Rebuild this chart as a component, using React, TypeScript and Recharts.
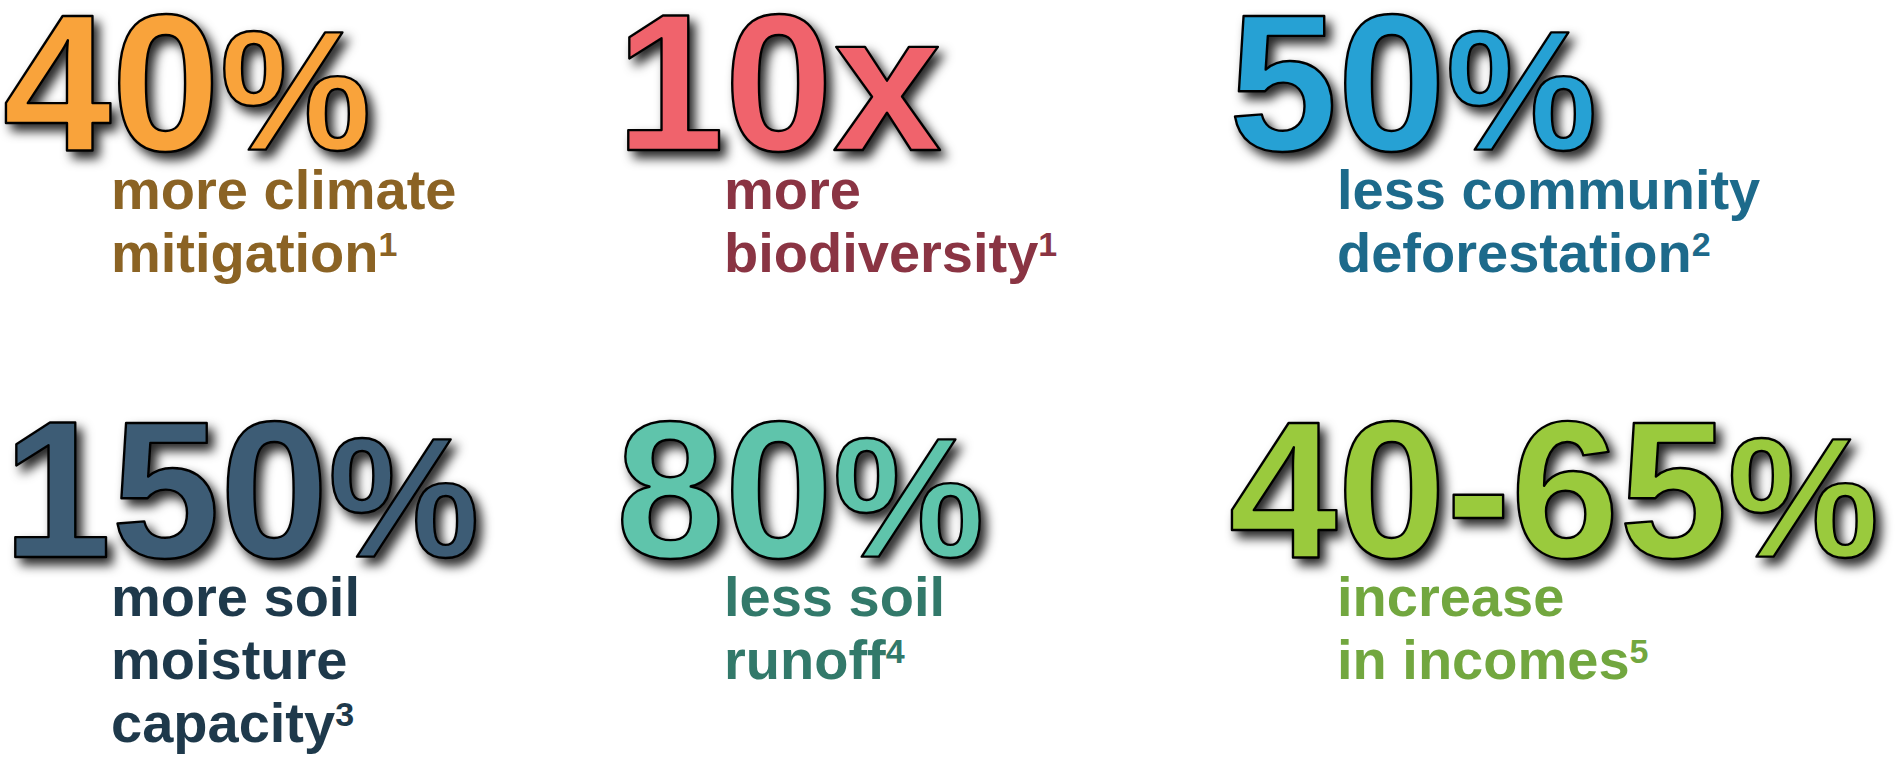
import React from 'react';
import { ScatterChart, Scatter, XAxis, YAxis } from 'recharts';

// headline figures
const VALUES = ['40', '10', '50', '150', '80', '40-65'];
const SUFFIXES = ['%', 'x', '%', '%', '%', '%'];
const CAPTIONS = [
  ['more climate', 'mitigation'],
  ['more', 'biodiversity'],
  ['less community', 'deforestation'],
  ['more soil', 'moisture', 'capacity'],
  ['less soil', 'runoff'],
  ['increase', 'in incomes'],
];
const NOTES = ['1', '1', '2', '3', '4', '5'];
const COLS = [0, 1, 2, 0, 1, 2];
const ROWS = [0, 0, 0, 1, 1, 1];

const FILLS = ['#F9A33B', '#F0646C', '#27A1D4', '#3E5C75', '#5EC4AB', '#9ACA3E'];
const INKS = ['#8B6324', '#8A3443', '#1D6A8B', '#1E394B', '#32796A', '#72A73F'];

const W = 1895;
const H = 764;
const FONT = '"Liberation Sans", Arial, Helvetica, sans-serif';

interface StatPoint {
  col: number;
  row: number;
  value: string;
  suffix: string;
  lines: string[];
  note: string;
  fill: string;
  ink: string;
}

const points: StatPoint[] = VALUES.map((value, i) => ({
  col: COLS[i],
  row: ROWS[i],
  value,
  suffix: SUFFIXES[i],
  lines: CAPTIONS[i],
  note: NOTES[i],
  fill: FILLS[i],
  ink: INKS[i],
}));

function Stat(props: any) {
  const { cx, cy, payload, index } = props;
  if (cx == null || cy == null || !payload) return null;
  const d = payload as StatPoint;
  const x = cx + 3;
  const base = cy + 150;
  const fid = `shadow-${index ?? d.value}`;
  return (
    <g>
      <defs>
        <filter id={fid} x="-20%" y="-20%" width="145%" height="160%">
          <feDropShadow dx={6} dy={7} stdDeviation={5.5} floodColor="#000" floodOpacity={0.85} />
        </filter>
      </defs>
      <text
        x={x}
        y={base}
        fontFamily={FONT}
        fontWeight={700}
        fontSize={195}
        fill={d.fill}
        stroke="#000"
        strokeWidth={2.4}
        strokeLinejoin="round"
        filter={`url(#${fid})`}
      >
        {d.value}
        <tspan fontSize={d.suffix === '%' ? 170 : 195}>{d.suffix}</tspan>
      </text>
      {d.lines.map((line, j) => (
        <text
          key={j}
          x={x + 108}
          y={base + 59 + j * 63}
          fontFamily={FONT}
          fontWeight={700}
          fontSize={56}
          fill={d.ink}
        >
          {line}
          {j === d.lines.length - 1 && (
            <tspan fontSize={34} dy={-16}>
              {d.note}
            </tspan>
          )}
        </text>
      ))}
    </g>
  );
}

export default function App() {
  return (
    <div style={{ width: W, height: H, background: '#fff' }}>
      <style>{'body{margin:0}'}</style>
      <ScatterChart width={W} height={H} margin={{ top: 0, right: 0, bottom: 0, left: 0 }}>
        <XAxis type="number" dataKey="col" domain={[0, W / 613]} hide />
        <YAxis type="number" dataKey="row" domain={[0, H / 407]} reversed hide />
        <Scatter data={points} isAnimationActive={false} shape={(p: any) => <Stat {...p} />} />
      </ScatterChart>
    </div>
  );
}
